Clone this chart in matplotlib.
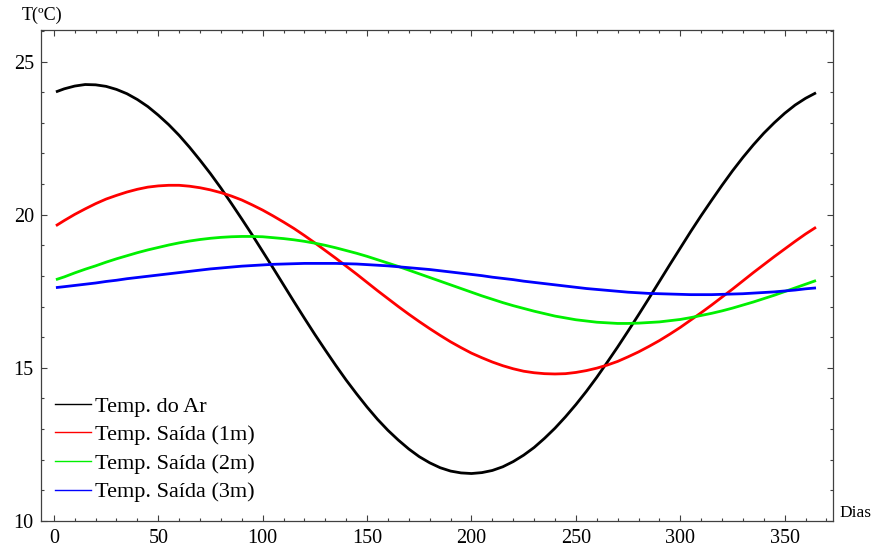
import matplotlib
matplotlib.use("Agg")
import matplotlib.pyplot as plt
from matplotlib.ticker import MultipleLocator
from matplotlib.lines import Line2D

plt.rcParams['font.family'] = ['Liberation Serif', 'DejaVu Serif']

days = [1, 5] + list(range(10, 366, 5))

temp_ar = [24.01, 24.11, 24.20, 24.25, 24.24, 24.19, 24.09, 23.95, 23.76, 23.53, 23.25, 22.94,
           22.59, 22.20, 21.78, 21.34, 20.87, 20.37, 19.86, 19.34, 18.80, 18.26, 17.71, 17.16,
           16.62, 16.09, 15.58, 15.08, 14.60, 14.15, 13.72, 13.32, 12.96, 12.64, 12.35, 12.10,
           11.90, 11.74, 11.63, 11.57, 11.55, 11.58, 11.65, 11.77, 11.94, 12.15, 12.40, 12.70,
           13.03, 13.40, 13.80, 14.23, 14.69, 15.18, 15.68, 16.20, 16.73, 17.27, 17.82, 18.37,
           18.91, 19.45, 19.97, 20.47, 20.96, 21.43, 21.87, 22.28, 22.66, 23.00, 23.31, 23.58,
           23.80, 23.98]

temp_1m = [19.64, 19.81, 20.01, 20.19, 20.36, 20.51, 20.63, 20.74, 20.83, 20.90, 20.94, 20.96,
           20.96, 20.93, 20.88, 20.81, 20.72, 20.61, 20.48, 20.32, 20.15, 19.96, 19.76, 19.55,
           19.32, 19.08, 18.83, 18.58, 18.32, 18.06, 17.79, 17.52, 17.26, 17.00, 16.75, 16.51,
           16.28, 16.06, 15.85, 15.66, 15.48, 15.33, 15.19, 15.07, 14.97, 14.89, 14.84, 14.81,
           14.80, 14.81, 14.85, 14.91, 14.99, 15.09, 15.21, 15.36, 15.52, 15.70, 15.89, 16.10,
           16.32, 16.56, 16.80, 17.05, 17.31, 17.57, 17.84, 18.11, 18.37, 18.63, 18.88, 19.13,
           19.37, 19.59]

temp_2m = [17.88, 17.97, 18.10, 18.22, 18.33, 18.45, 18.56, 18.66, 18.76, 18.85, 18.93, 19.01,
           19.08, 19.14, 19.19, 19.23, 19.26, 19.28, 19.29, 19.29, 19.28, 19.25, 19.22, 19.18,
           19.13, 19.07, 19.00, 18.92, 18.83, 18.74, 18.64, 18.53, 18.42, 18.31, 18.19, 18.07,
           17.95, 17.83, 17.71, 17.59, 17.47, 17.35, 17.24, 17.13, 17.03, 16.94, 16.85, 16.77,
           16.69, 16.63, 16.57, 16.53, 16.49, 16.47, 16.45, 16.45, 16.46, 16.48, 16.50, 16.54,
           16.58, 16.64, 16.71, 16.78, 16.86, 16.95, 17.05, 17.15, 17.26, 17.37, 17.49, 17.61,
           17.73, 17.85]

temp_3m = [17.62, 17.65, 17.69, 17.73, 17.77, 17.82, 17.86, 17.91, 17.95, 17.99, 18.03, 18.07,
           18.11, 18.15, 18.19, 18.23, 18.26, 18.29, 18.32, 18.34, 18.36, 18.38, 18.39, 18.40,
           18.41, 18.41, 18.41, 18.41, 18.40, 18.39, 18.37, 18.35, 18.33, 18.30, 18.27, 18.24,
           18.21, 18.17, 18.13, 18.09, 18.05, 18.01, 17.96, 17.92, 17.88, 17.83, 17.79, 17.75,
           17.71, 17.67, 17.63, 17.59, 17.56, 17.53, 17.50, 17.47, 17.45, 17.43, 17.42, 17.41,
           17.40, 17.39, 17.39, 17.39, 17.40, 17.41, 17.42, 17.44, 17.46, 17.48, 17.51, 17.54,
           17.58, 17.61]

labels = ["Temp. do Ar", "Temp. Saída (1m)", "Temp. Saída (2m)", "Temp. Saída (3m)"]
colors = ["#000000", "#ff0000", "#00f000", "#0000ff"]
series = [temp_ar, temp_1m, temp_2m, temp_3m]

x_ticks = [0, 50, 100, 150, 200, 250, 300, 350]
y_ticks = [10, 15, 20, 25]

fig = plt.figure(figsize=(8.73, 5.52), dpi=100)
ax = fig.add_axes([40.7 / 873, 1 - 521 / 552, (832.7 - 40.7) / 873, (521 - 30) / 552])

for vals, c in zip(series, colors):
    ax.plot(days, vals, color=c, lw=2.0, solid_joinstyle='round', solid_capstyle='butt')

ax.set_xlim(-6.3, 373.0)
ax.set_ylim(10, 26.03)
ax.set_xticks(x_ticks)
ax.set_yticks(y_ticks)
ax.xaxis.set_minor_locator(MultipleLocator(10))
ax.yaxis.set_minor_locator(MultipleLocator(1))
ax.tick_params(which='both', direction='in', top=True, right=True, color='#404040', width=0.8)
ax.tick_params(which='major', length=4.5, labelsize=14.5, pad=6)
ax.tick_params(which='minor', length=2.5)
ax.tick_params(axis='y', pad=5)
for s in ax.spines.values():
    s.set_color('#404040')
    s.set_linewidth(0.9)

handles = [Line2D([], [], color=c, lw=1.0) for c in colors]
ax.legend(handles, labels, loc='lower left', bbox_to_anchor=(0.018, 0.038), frameon=False,
          fontsize=16, handlelength=1.6, handletextpad=0.2, labelspacing=0.36, borderpad=0,
          borderaxespad=0)

fig.text(22 / 873, 1 - 15 / 552, "T(ºC)", fontsize=13, ha='left', va='center')
fig.text(839 / 873, 1 - 513 / 552, "Dias", fontsize=12.5, ha='left', va='center')

fig.savefig("out.png", dpi=100)
